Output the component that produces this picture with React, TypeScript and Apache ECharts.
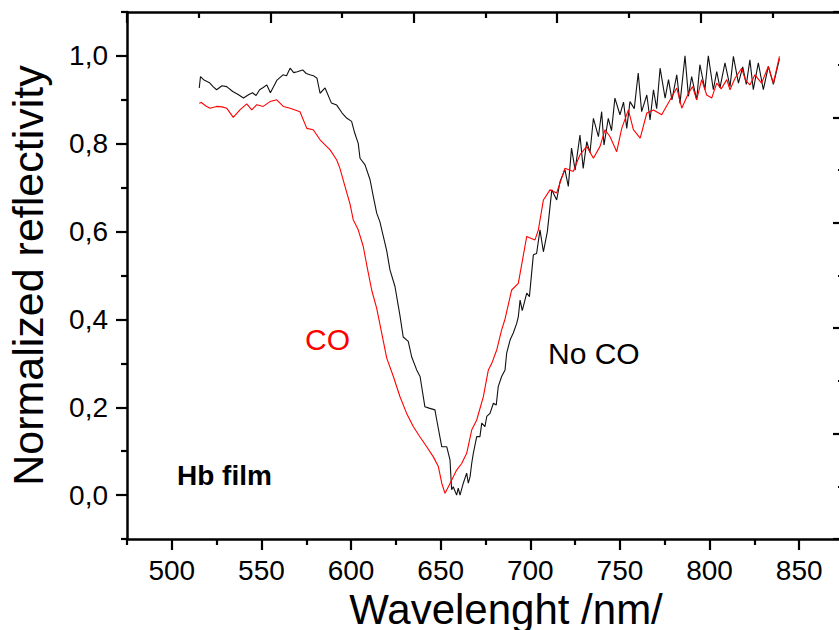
import React, { useEffect, useRef } from "react";
import * as echarts from "echarts";

const xMin = 475;
const xMax = 875;
const xTickLabels = [500, 550, 600, 650, 700, 750, 800, 850];
const yTickLabels = [0, 0.2, 0.4, 0.6, 0.8, 1.0];

const noCoWavelength = [
  515.3, 516, 518, 521, 523, 525, 528, 530.6, 534, 537, 540, 543, 545, 547, 549, 551, 553, 555, 558.7, 562,
  564, 566, 568, 570, 573, 575, 577, 579, 581, 582.7, 585.5, 589, 592, 595, 597.7, 600.3, 602, 604, 605, 607.8,
  610.6, 612.4, 614.3, 616.1, 618, 619.9, 621.7, 624.5, 627.3, 629.1, 631.9, 633.8, 636.6, 638.5, 641.2, 643.5,
  646.8, 647.8, 650.6, 653.4, 655.2, 656.1, 657, 658.9, 659.8, 660.8, 662.6, 664.5, 665.4, 666.4, 667.3, 668.2,
  670.1, 671.9, 672.9, 674.7, 675.7, 677.5, 679.4, 681, 682.1, 684, 685.9, 686.8, 688.7, 690.5, 692.4, 693.3,
  694.3, 695.5, 698, 699.5, 701.7, 703.5, 705.4, 707.3, 709.5, 712, 714.7, 716.6, 719.3, 721.2, 723, 725,
  727.7, 729.5, 731.5, 733.3, 735.2, 738, 739.8, 741.1, 743.5, 745.3, 747.2, 750, 752, 753.8, 755.6, 758,
  760.2, 762.1, 765, 766.8, 768.7, 770.5, 772.4, 775.2, 777.1, 779, 781.7, 783.5, 786.3, 788.2, 790, 792.8,
  794.6, 797.4, 799.3, 802.1, 804, 805.8, 808.6, 811.4, 813.3, 816.1, 818.5, 820.5, 822.5, 824.4, 827.2, 830,
  832.8, 835.6, 839,
];
const noCoValue = [
  0.927, 0.953, 0.945, 0.939, 0.93, 0.923, 0.932, 0.93, 0.919, 0.912, 0.904, 0.912, 0.916, 0.91, 0.923, 0.928, 0.934, 0.916, 0.945, 0.957,
  0.955, 0.972, 0.962, 0.964, 0.968, 0.96, 0.957, 0.955, 0.949, 0.915, 0.927, 0.893, 0.888, 0.87, 0.858, 0.851, 0.825, 0.801, 0.767, 0.752,
  0.718, 0.68, 0.642, 0.622, 0.589, 0.556, 0.513, 0.475, 0.408, 0.36, 0.35, 0.315, 0.285, 0.27, 0.201, 0.198,
  0.194, 0.171, 0.11, 0.11, 0.08, 0.012, 0.019, 0.0, 0.016, 0.0, 0.027, 0.05, 0.027, 0.042, 0.072, 0.095,
  0.133, 0.133, 0.164, 0.156, 0.179, 0.186, 0.209, 0.205, 0.247, 0.27, 0.285, 0.323, 0.353, 0.369, 0.391, 0.406,
  0.444, 0.42, 0.46, 0.452, 0.547, 0.55, 0.604, 0.554, 0.6, 0.695, 0.672, 0.714, 0.741, 0.703, 0.79, 0.74,
  0.82, 0.744, 0.805, 0.78, 0.858, 0.816, 0.873, 0.797, 0.858, 0.83, 0.904, 0.866, 0.895, 0.835, 0.896, 0.88,
  0.961, 0.873, 0.911, 0.854, 0.923, 0.88, 0.972, 0.904, 0.946, 0.9, 0.957, 0.892, 1.0, 0.908, 0.953, 0.9,
  0.98, 0.923, 1.0, 0.923, 0.964, 0.927, 0.984, 0.93, 0.999, 0.938, 0.975, 0.935, 0.991, 0.923, 0.984, 0.923,
  0.976, 0.935, 0.994,
];

const coWavelength = [
  515.3, 516.5, 519, 521.3, 525, 528, 530.6, 534.3, 538, 541.8, 544.6, 547.4, 551, 554.8, 558.5, 562.2, 566, 571.5, 575.3, 578.9,
  582.7, 588.3, 592, 593.8, 596.6, 599.4, 601.2, 604, 606.8, 608.7, 611.5, 614.3, 617.1, 619.9, 623.6, 627.3, 631, 634.7, 638, 642.2,
  645.9, 648.7, 650.6, 652.4, 654.3, 656.1, 658.9, 661.7, 664.5, 667.3, 670.1, 673.8, 676.6, 678.5, 681.3, 684, 685.9, 689.6, 693.3, 698,
  702.6, 704.5, 707.3, 711, 714.7, 719.3, 724, 727.7, 731.5, 735.2, 738.9, 741.7, 744.5, 748.2, 751, 754.7, 757.5, 761.3, 765, 768.7,
  773.3, 778, 781.7, 784.5, 788.2, 790.5, 792.8, 795.6, 798.4, 801.2, 804, 806.5, 809.6, 811.4, 814.2, 817.9, 820, 822.5, 825.3, 829,
  832.8, 835.6, 839,
];
const coValue = [
  0.892, 0.894, 0.886, 0.881, 0.885, 0.884, 0.881, 0.86, 0.877, 0.891, 0.877, 0.889, 0.885, 0.896, 0.9, 0.885, 0.881, 0.873, 0.835, 0.832,
  0.809, 0.786, 0.763, 0.744, 0.703, 0.663, 0.627, 0.604, 0.566, 0.525, 0.467, 0.425, 0.369, 0.312, 0.27, 0.224, 0.186, 0.156, 0.135, 0.11,
  0.087, 0.065, 0.027, 0.004, 0.019, 0.034, 0.057, 0.072, 0.095, 0.148, 0.171, 0.224, 0.285, 0.3, 0.331, 0.376, 0.401, 0.467, 0.482, 0.589,
  0.581, 0.604, 0.672, 0.695, 0.688, 0.744, 0.737, 0.775, 0.794, 0.767, 0.794, 0.832, 0.816, 0.782, 0.835, 0.877, 0.832, 0.813, 0.87, 0.877,
  0.866, 0.9, 0.927, 0.881, 0.915, 0.93, 0.9, 0.946, 0.911, 0.904, 0.938, 0.925, 0.946, 0.923, 0.949, 0.972, 0.945, 0.934, 0.957, 0.938,
  0.976, 0.938, 0.999,
];

const FONT = "'Liberation Sans', Arial, sans-serif";

export default function App() {
  const ref = useRef<HTMLDivElement>(null);

  useEffect(() => {
    if (!ref.current) return;
    const chart = echarts.init(ref.current, null, { renderer: "svg" });
    const lineStyle = { color: "#000", width: 2.5 };
    const tickStyle = { color: "#000", width: 2.2 };

    const option: any = {
      animation: false,
      backgroundColor: "#fff",
      textStyle: { fontFamily: FONT },
      grid: {
        left: 127,
        right: -5,
        top: 12,
        bottom: 91,
        containLabel: false,
        outerBoundsMode: "none",
      },
      xAxis: [
        {
          type: "value",
          min: xMin,
          max: xMax,
          position: "bottom",
          name: "Wavelenght /nm/",
          nameLocation: "middle",
          nameGap: 48,
          nameTextStyle: { fontSize: 42, color: "#000", fontFamily: FONT, padding: [0, 0, 0, 41] },
          axisLine: { show: true, onZero: false, lineStyle },
          axisTick: { show: true, inside: false, length: 11, customValues: xTickLabels, lineStyle: tickStyle },
          axisLabel: { show: true, customValues: xTickLabels, margin: 17, fontSize: 28, color: "#000", fontFamily: FONT },
          splitLine: { show: false },
        },
        {
          type: "value",
          min: xMin,
          max: xMax,
          interval: 80,
          position: "top",
          axisLine: { show: true, onZero: false, lineStyle },
          axisTick: { show: true, inside: true, length: 11, lineStyle: tickStyle },
          minorTick: { show: true, splitNumber: 2, length: 6, lineStyle: tickStyle },
          axisLabel: { show: false },
          splitLine: { show: false },
          minorSplitLine: { show: false },
        },
        {
          type: "value",
          min: xMin,
          max: xMax,
          interval: 50,
          position: "bottom",
          axisLine: { show: false, onZero: false },
          axisTick: { show: true, inside: false, length: 6, lineStyle: tickStyle },
          axisLabel: { show: false },
          splitLine: { show: false },
        },
      ],
      yAxis: [
        {
          type: "value",
          min: -0.1,
          max: 1.1,
          position: "left",
          name: "Normalized reflectivity",
          nameLocation: "middle",
          nameGap: 78,
          nameTextStyle: { fontSize: 43, color: "#000", fontFamily: FONT },
          axisLine: { show: true, onZero: false, lineStyle },
          axisTick: { show: true, inside: false, length: 11, customValues: yTickLabels, lineStyle: tickStyle },
          axisLabel: {
            show: true,
            customValues: yTickLabels,
            margin: 19,
            fontSize: 28,
            color: "#000",
            fontFamily: FONT,
            formatter: (v: number) => v.toFixed(1).replace(".", ","),
          },
          splitLine: { show: false },
        },
        {
          type: "value",
          min: -0.1,
          max: 1.1,
          interval: 0.2,
          position: "left",
          axisLine: { show: false, onZero: false },
          axisTick: { show: true, inside: false, length: 6, lineStyle: tickStyle },
          axisLabel: { show: false },
          splitLine: { show: false },
        },
        {
          type: "value",
          min: 0,
          max: 5,
          interval: 1,
          position: "right",
          axisLine: { show: true, onZero: false, lineStyle },
          axisTick: { show: true, inside: true, length: 11, lineStyle: tickStyle },
          minorTick: { show: true, splitNumber: 2, length: 6, lineStyle: tickStyle },
          axisLabel: { show: false },
          splitLine: { show: false },
          minorSplitLine: { show: false },
        },
      ],
      series: [
        {
          name: "No CO",
          type: "line",
          xAxisIndex: 0,
          yAxisIndex: 0,
          showSymbol: false,
          symbol: "none",
          data: noCoWavelength.map((x, i) => [x, noCoValue[i]]),
          lineStyle: { color: "#111", width: 1.1 },
          itemStyle: { color: "#111" },
          z: 3,
        },
        {
          name: "CO",
          type: "line",
          xAxisIndex: 0,
          yAxisIndex: 0,
          showSymbol: false,
          symbol: "none",
          data: coWavelength.map((x, i) => [x, coValue[i]]),
          lineStyle: { color: "#ff0000", width: 1.1 },
          itemStyle: { color: "#ff0000" },
          z: 4,
        },
      ],
      graphic: [
        {
          type: "text",
          left: 305,
          top: 324,
          style: { text: "CO", fontSize: 30, fontFamily: FONT, fill: "#ff0000" },
        },
        {
          type: "text",
          left: 548,
          top: 338,
          style: { text: "No CO", fontSize: 30, fontFamily: FONT, fill: "#000" },
        },
        {
          type: "text",
          left: 177,
          top: 461,
          style: { text: "Hb film", fontSize: 28, fontWeight: "bold", fontFamily: FONT, fill: "#000" },
        },
      ],
    };

    chart.setOption(option);
    return () => chart.dispose();
  }, []);

  return (
    <div
      ref={ref}
      style={{ position: "absolute", left: 0, top: 0, width: 839, height: 630, background: "#fff" }}
    />
  );
}
